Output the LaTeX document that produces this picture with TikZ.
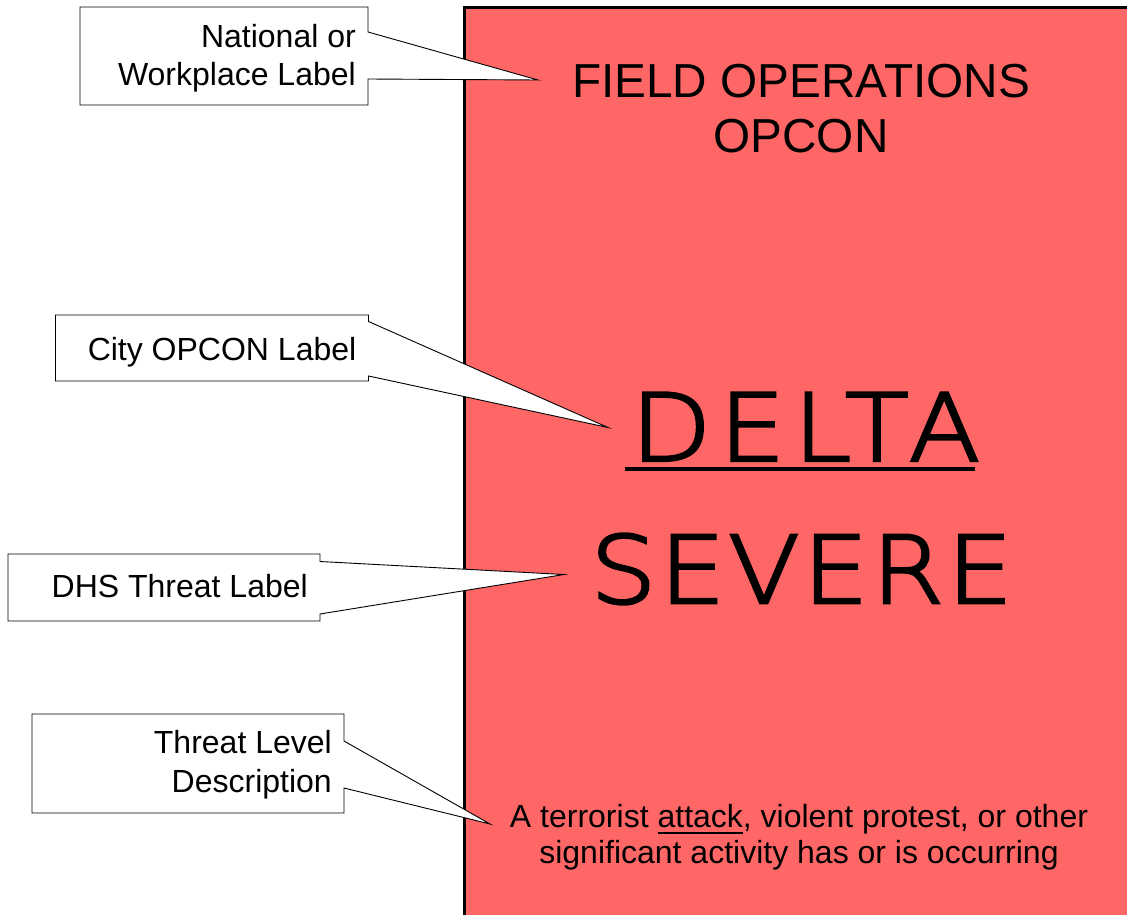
\documentclass[tikz,border=0pt]{standalone}
\usepackage{fontspec}
\setmainfont{Liberation Sans}
\newfontfamily\thinfont[FakeStretch=1.12,FakeBold=3,LetterSpace=3]{DejaVu Sans ExtraLight}
\definecolor{panelred}{RGB}{255,102,102}
\newcommand\myul[3]{\setbox0\hbox{#3}\rlap{\rule[-#1]{\wd0}{#2}}\box0}
\begin{document}
\begin{tikzpicture}[x=1pt,y=-1pt,
  callout/.style={fill=white, draw=black, line width=0.9pt, line join=miter},
  lbl/.style={font=\fontsize{32}{38.5}\selectfont, inner sep=0pt, align=right, anchor=north east},
  paneltext/.style={inner sep=0pt, align=center, text=black}]
\useasboundingbox (0,0) rectangle (1127,915);
% panel
\begin{scope}
\clip (0,0) rectangle (1127,915);
\fill[panelred] (464.5,7.5) rectangle (1140,930);
\draw[line width=3pt] (464.5,930) -- (464.5,7.5) -- (1140,7.5);
\end{scope}
% panel texts
\node[paneltext, anchor=north, font=\fontsize{47.7}{55.3}\selectfont] (field) at (801,63.8) {FIELD OPERATIONS\\OPCON};
\node[paneltext, anchor=base, font=\thinfont\fontsize{93.3}{100}\selectfont\addfontfeature{LetterSpace=8.5}] (delta) at (800,460.7) {\myul{10pt}{4pt}{\kern6pt DELTA\kern-5pt}};
\node[paneltext, anchor=base, font=\thinfont\fontsize{93.3}{100}\selectfont] (severe) at (801.5,603) {SEVERE};
\node[paneltext, anchor=north, font=\fontsize{32}{36.3}\selectfont] (desc) at (799,804.1) {A terrorist \myul{7pt}{2pt}{attack}, violent protest, or other\\significant activity has or is occurring};
% callout tips
\coordinate (tip1) at (538,80);
\coordinate (tip2) at (608,427.5);
\coordinate (tip3) at (564,574.5);
\coordinate (tip4) at (490,824);
% callouts
\draw[callout] (80,7) -- (368,7) -- (368,32) -- (tip1) -- (368,79) -- (368,105) -- (80,105) -- cycle;
\draw[callout] (55.5,315) -- (368.5,315) -- (368.5,321.5) -- (tip2) -- (368.5,376) -- (368.5,381) -- (55.5,381) -- cycle;
\draw[callout] (8,554) -- (320,554) -- (320,561.5) -- (tip3) -- (320,614) -- (320,621) -- (8,621) -- cycle;
\draw[callout] (32,714) -- (344,714) -- (344,741) -- (tip4) -- (344,788) -- (344,813) -- (32,813) -- cycle;
% callout labels
\node[lbl] (l1) at (356,24.1) {National or\\Workplace Label};
\node[lbl] (l2) at (356.5,337.1) {City OPCON Label};
\node[lbl] (l3) at (308,574.1) {DHS Threat Label};
\node[lbl] (l4) at (332,730.6) {Threat Level\\Description};
\end{tikzpicture}
\end{document}
